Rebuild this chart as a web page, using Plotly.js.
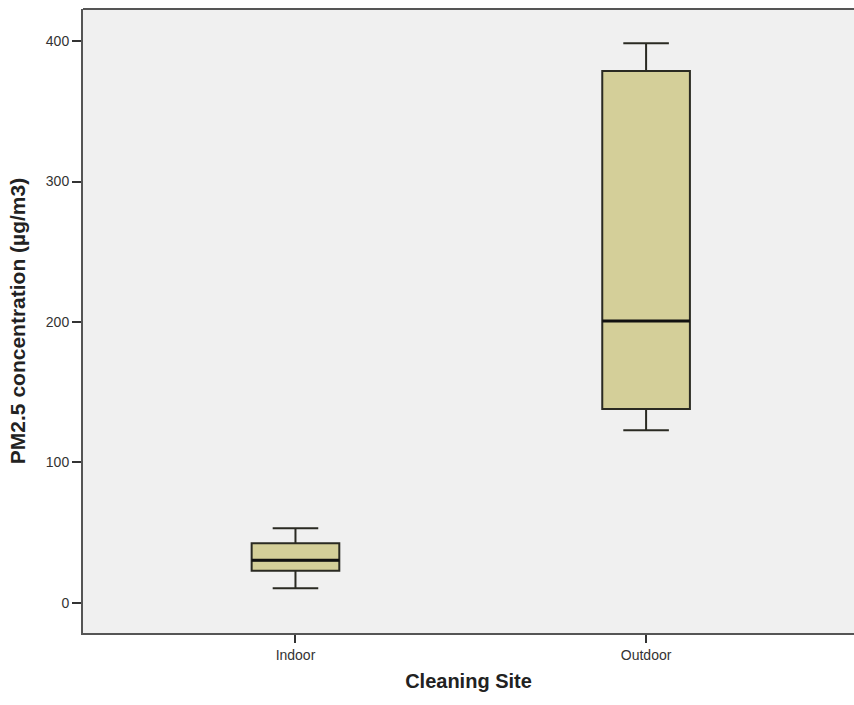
<!DOCTYPE html>
<html>
<head>
<meta charset="utf-8">
<script src="https://cdn.plot.ly/plotly-3.0.1.min.js"></script>
<style>html,body{margin:0;padding:0;background:#fff}#chart{width:854px;height:705px}</style>
</head>
<body>
<div id="chart"></div>
<script>
const categories = ["Indoor", "Outdoor"];
const lowerWhisker = [10.5, 123];
const q1Values = [23, 138];
const medianValues = [30.4, 200.7];
const q3Values = [42.5, 378.6];
const upperWhisker = [53.2, 398.4];
const yTicks = [0, 100, 200, 300, 400];

const boxWidth = 0.25;
const traces = categories.map((c, i) => ({
  type: "box",
  x: [c],
  lowerfence: [lowerWhisker[i]],
  q1: [q1Values[i]],
  median: [medianValues[i]],
  q3: [q3Values[i]],
  upperfence: [upperWhisker[i]],
  width: boxWidth,
  whiskerwidth: 0.52,
  fillcolor: "#d4cf99",
  line: {color: "#2a2a22", width: 2},
  boxpoints: false,
  showlegend: false,
  hoverinfo: "skip"
}));

const shapes = categories.map((c, i) => ({
  type: "line", xref: "x", yref: "y",
  x0: i - boxWidth / 2, x1: i + boxWidth / 2,
  y0: medianValues[i], y1: medianValues[i],
  line: {color: "#111111", width: 3}
}));
shapes.push({
  type: "line", xref: "paper", yref: "paper",
  x0: 0, x1: 1, y0: 1, y1: 1,
  line: {color: "#555555", width: 2}
});

const layout = {
  width: 854, height: 705,
  margin: {l: 83, r: 0, t: 9, b: 72},
  paper_bgcolor: "#ffffff",
  plot_bgcolor: "#f0f0f0",
  font: {family: "Liberation Sans, Arial, sans-serif", color: "#333333", size: 14},
  shapes: shapes,
  xaxis: {
    type: "category",
    range: [-0.606, 1.593],
    showgrid: false, zeroline: false,
    showline: true, linecolor: "#555555", linewidth: 2,
    ticks: "outside", ticklen: 8, tickcolor: "#333333", tickwidth: 2,
    tickfont: {size: 14, color: "#333333"},
    title: {text: "<b>Cleaning Site</b>", font: {size: 20, color: "#222222"}, standoff: 12}
  },
  yaxis: {
    range: [-21.4, 422.8],
    tickvals: yTicks,
    showgrid: false, zeroline: false,
    showline: true, linecolor: "#555555", linewidth: 2,
    ticks: "outside", ticklen: 9, tickcolor: "#333333", tickwidth: 2,
    tickfont: {size: 14, color: "#333333"},
    title: {text: "<b>PM2.5 concentration (µg/m3)</b>", font: {size: 21, color: "#222222"}, standoff: 14}
  }
};

Plotly.newPlot("chart", traces, layout, {displayModeBar: false, staticPlot: true});
</script>
</body>
</html>
